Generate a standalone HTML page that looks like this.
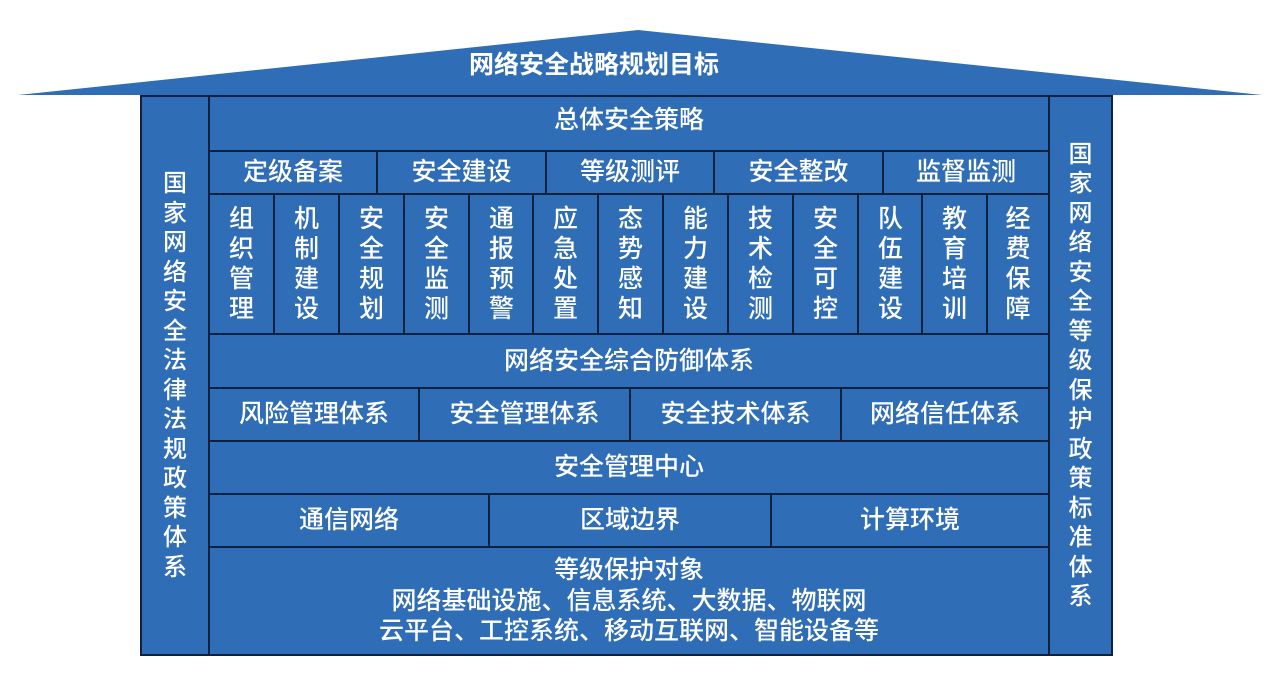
<!DOCTYPE html>
<html><head><meta charset="utf-8"><style>
html,body{margin:0;padding:0;background:#fff;width:1280px;height:674px;overflow:hidden}
body{position:relative;font-family:"Liberation Sans","Noto Sans CJK SC",sans-serif;color:#fff}
.b{position:absolute;box-sizing:border-box;background:#2f6db6;border:2px solid #0d2240;display:flex;align-items:center;justify-content:center;font-size:25px;line-height:1;text-align:center;white-space:nowrap;font-weight:500}
.v{flex-direction:column;line-height:30px;font-size:25px}
.side{flex-direction:column;line-height:29.5px;font-size:24px}
</style></head><body>
<svg width="1280" height="674" style="position:absolute;left:0;top:0">
<polygon points="18,95 638,30 1262,95" fill="#2f6db6"/>
</svg>
<div style="position:absolute;left:466px;top:51px;width:256px;text-align:center;font-size:25px;font-weight:bold;line-height:28px">网络安全战略规划目标</div>

<div class="b side" style="left:140px;top:95px;width:70px;height:561px">国<br>家<br>网<br>络<br>安<br>全<br>法<br>律<br>法<br>规<br>政<br>策<br>体<br>系</div>
<div class="b side" style="left:1048px;top:95px;width:65px;height:561px">国<br>家<br>网<br>络<br>安<br>全<br>等<br>级<br>保<br>护<br>政<br>策<br>标<br>准<br>体<br>系</div>

<div class="b" style="left:208px;top:95px;width:842px;height:57px;padding-bottom:6px">总体安全策略</div>

<div class="b" style="left:208px;top:150px;width:170px;height:45px">定级备案</div>
<div class="b" style="left:376px;top:150px;width:171px;height:45px">安全建设</div>
<div class="b" style="left:545px;top:150px;width:170px;height:45px">等级测评</div>
<div class="b" style="left:713px;top:150px;width:171px;height:45px">安全整改</div>
<div class="b" style="left:882px;top:150px;width:168px;height:45px">监督监测</div>

<div class="b v" style="left:208px;top:193px;width:67px;height:142px">组<br>织<br>管<br>理</div>
<div class="b v" style="left:273px;top:193px;width:67px;height:142px">机<br>制<br>建<br>设</div>
<div class="b v" style="left:338px;top:193px;width:67px;height:142px">安<br>全<br>规<br>划</div>
<div class="b v" style="left:403px;top:193px;width:67px;height:142px">安<br>全<br>监<br>测</div>
<div class="b v" style="left:468px;top:193px;width:67px;height:142px">通<br>报<br>预<br>警</div>
<div class="b v" style="left:532px;top:193px;width:67px;height:142px">应<br>急<br>处<br>置</div>
<div class="b v" style="left:597px;top:193px;width:67px;height:142px">态<br>势<br>感<br>知</div>
<div class="b v" style="left:662px;top:193px;width:67px;height:142px">能<br>力<br>建<br>设</div>
<div class="b v" style="left:727px;top:193px;width:67px;height:142px">技<br>术<br>检<br>测</div>
<div class="b v" style="left:792px;top:193px;width:67px;height:142px">安<br>全<br>可<br>控</div>
<div class="b v" style="left:857px;top:193px;width:67px;height:142px">队<br>伍<br>建<br>设</div>
<div class="b v" style="left:921px;top:193px;width:67px;height:142px">教<br>育<br>培<br>训</div>
<div class="b v" style="left:986px;top:193px;width:64px;height:142px">经<br>费<br>保<br>障</div>

<div class="b" style="left:208px;top:333px;width:842px;height:56px">网络安全综合防御体系</div>

<div class="b" style="left:208px;top:387px;width:212px;height:55px">风险管理体系</div>
<div class="b" style="left:418px;top:387px;width:213px;height:55px">安全管理体系</div>
<div class="b" style="left:629px;top:387px;width:213px;height:55px">安全技术体系</div>
<div class="b" style="left:840px;top:387px;width:210px;height:55px">网络信任体系</div>

<div class="b" style="left:208px;top:440px;width:842px;height:55px">安全管理中心</div>

<div class="b" style="left:208px;top:493px;width:282px;height:55px">通信网络</div>
<div class="b" style="left:488px;top:493px;width:284px;height:55px">区域边界</div>
<div class="b" style="left:770px;top:493px;width:280px;height:55px">计算环境</div>

<div class="b" style="left:208px;top:546px;width:842px;height:110px;flex-direction:column;line-height:30.5px">等级保护对象<br>网络基础设施、信息系统、大数据、物联网<br>云平台、工控系统、移动互联网、智能设备等</div>
</body></html>
